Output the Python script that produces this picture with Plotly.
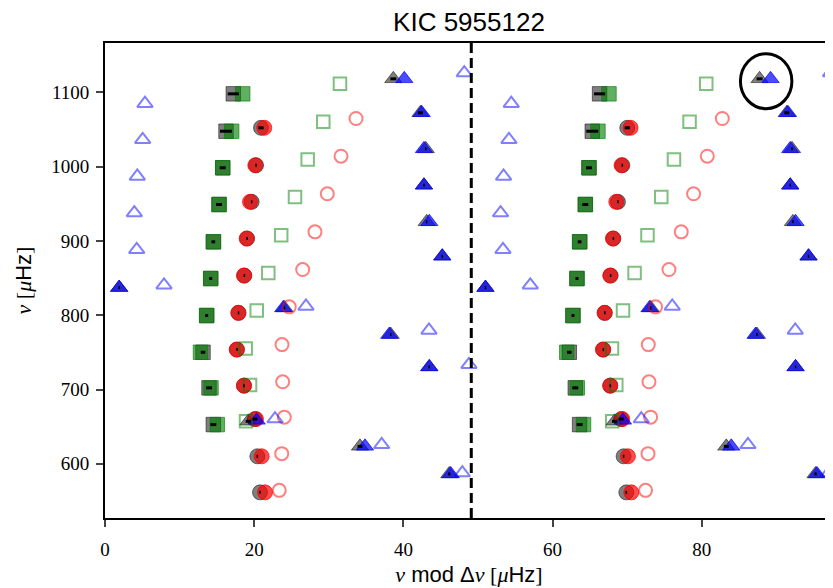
import plotly.graph_objects as go

# ---------------- data ----------------
DNU = 49.1  # large separation, dashed line and replica offset [muHz]

# observed l=2 (gray squares)
obs_l2_x = [17.20, 16.22, 15.78, 15.28, 14.52, 14.17, 13.63, 13.14, 13.94, 14.52]
obs_l2_nu = [1097.8, 1047.5, 998.3, 948.9, 898.7, 849.3, 799.5, 750.1, 702.2, 652.8]
obs_l2_err = [0.75, 0.8, 0.4, 0.4, 0.25, 0.2, 0.2, 0.3, 0.4, 0.4]

# observed l=0 (gray circles)
obs_l0_x = [20.91, 20.25, 19.66, 19.05, 18.68, 17.90, 17.70, 18.63, 20.10, 20.42, 20.78]
obs_l0_nu = [1052.1, 1001.7, 952.5, 903.1, 853.3, 803.1, 753.7, 705.2, 660.2, 610.1, 561.6]
obs_l0_err = [0.35, 0.1, 0.1, 0.1, 0.1, 0.1, 0.1, 0.1, 0.33, 0.1, 0.1]

# observed l=1 (gray triangles)
obs_l1_x = [38.65, 42.29, 43.00, 42.76, 43.12, 45.21, 1.90, 24.06, 38.30, 43.47, 19.21, 34.18, 46.15]
obs_l1_nu = [1118.0, 1072.3, 1023.8, 974.8, 925.6, 879.3, 837.1, 809.8, 773.9, 730.4, 657.2, 623.5, 586.4]
obs_l1_err = [0.4, 0.33, 0.1, 0.1, 0.1, 0.1, 0.1, 0.1, 0.1, 0.1, 0.35, 0.33, 0.15]

# best model, matched modes (filled)
mod_l2_x = [18.46, 16.98, 15.78, 15.30, 14.55, 14.17, 13.63, 12.80, 14.21, 15.05]
mod_l2_nu = [1097.8, 1047.5, 998.3, 948.9, 898.7, 849.3, 799.5, 750.1, 702.2, 652.8]
mod_l0_x = [21.35, 20.15, 19.44, 18.99, 18.63, 17.87, 17.65, 18.63, 20.24, 21.00, 21.45]
mod_l0_nu = [1052.1, 1001.7, 952.5, 903.1, 853.3, 803.1, 753.7, 705.2, 660.2, 610.1, 561.6]
mod_l1_x = [40.12, 42.45, 42.76, 42.76, 43.47, 45.21, 1.90, 23.90, 38.11, 43.47, 20.33, 34.85, 46.34]
mod_l1_nu = [1118.0, 1072.3, 1023.8, 974.8, 925.6, 879.3, 837.1, 809.8, 773.9, 730.4, 658.5, 623.5, 586.4]

# other model modes (open)
open_l0_x = [33.65, 31.64, 29.80, 28.15, 26.50, 24.70, 23.73, 23.82, 24.04, 23.69, 23.36]
open_l0_nu = [1064.6, 1013.9, 963.3, 912.1, 861.4, 811.2, 760.4, 710.4, 662.8, 613.7, 564.3]
open_l2_x = [31.50, 29.26, 27.17, 25.47, 23.62, 21.89, 20.34, 18.86, 19.44, 18.90]
open_l2_nu = [1111.3, 1060.2, 1009.4, 959.0, 907.5, 856.9, 806.2, 755.1, 705.9, 657.2]
open_l1_x = [48.16, 5.36, 5.05, 4.33, 3.93, 4.25, 7.91, 26.94, 43.43, 48.79, 22.79, 37.09, 47.90]
open_l1_nu = [1126.1, 1084.8, 1036.3, 986.9, 937.7, 888.3, 840.5, 812.0, 779.7, 733.5, 660.4, 625.8, 587.8]

# highlighted mode (black circle)
HL_X, HL_NU, HL_RX, HL_RY = 88.63, 1114.8, 3.45, 37.0

x_ticks = [0, 20, 40, 60, 80]
y_ticks = [600, 700, 800, 900, 1000, 1100]
TITLE = "KIC 5955122"

# ---------------- helpers ----------------
def rep(x, nu):
    """échelle replicated one Δν to the right"""
    return list(x) + [v + DNU for v in x], list(nu) + list(nu)

GRAY = "rgba(0,0,0,0.5)"
RED_F, BLUE_F, GREEN_F = "rgba(255,0,0,0.7)", "rgba(0,0,255,0.7)", "rgba(0,128,0,0.62)"
RED_O, BLUE_O, GREEN_O = "rgba(255,0,0,0.5)", "rgba(0,0,255,0.5)", "rgba(0,128,0,0.5)"

fig = go.Figure()

def add(x, nu, symbol, color, size, lw, open_=False):
    xx, yy = rep(x, nu)
    fig.add_trace(go.Scatter(
        x=xx, y=yy, mode="markers", showlegend=False, hoverinfo="skip",
        marker=dict(symbol=symbol + ("-open" if open_ else ""), size=size,
                    color=color, line=dict(color=color, width=lw))))

SQ, CI, TR = 14.5, 15, 15
# observed (gray)
add(obs_l2_x, obs_l2_nu, "square", GRAY, SQ, 1)
add(obs_l0_x, obs_l0_nu, "circle", GRAY, CI, 1)
add(obs_l1_x, obs_l1_nu, "triangle-up", GRAY, TR, 1)
# matched model (filled)
add(mod_l2_x, mod_l2_nu, "square", GREEN_F, SQ, 1)
add(mod_l0_x, mod_l0_nu, "circle", RED_F, CI, 1)
add(mod_l1_x, mod_l1_nu, "triangle-up", BLUE_F, TR, 1)
# other model modes (open)
add(open_l2_x, open_l2_nu, "square", GREEN_O, 12.5, 2, True)
add(open_l0_x, open_l0_nu, "circle", RED_O, 13, 2, True)
add(open_l1_x, open_l1_nu, "triangle-up", BLUE_O, 13.5, 2, True)

# error bars on top
for x, nu, err in [(obs_l2_x, obs_l2_nu, obs_l2_err),
                   (obs_l0_x, obs_l0_nu, obs_l0_err),
                   (obs_l1_x, obs_l1_nu, obs_l1_err)]:
    xx, yy = rep(x, nu)
    fig.add_trace(go.Scatter(
        x=xx, y=yy, mode="markers", showlegend=False, hoverinfo="skip",
        marker=dict(size=1, color="rgba(0,0,0,0)"),
        error_x=dict(type="data", array=list(err) + list(err), width=0,
                     thickness=3, color="black")))

# dashed Δν line
fig.add_shape(type="line", xref="x", yref="paper", x0=DNU, x1=DNU, y0=0, y1=1,
              line=dict(color="black", width=3, dash="10px,5px"))
# highlight circle
fig.add_shape(type="circle", xref="x", yref="y",
              x0=HL_X - HL_RX, x1=HL_X + HL_RX, y0=HL_NU - HL_RY, y1=HL_NU + HL_RY,
              line=dict(color="black", width=3))

SERIF = "Liberation Serif"
SANS = "Liberation Sans"
def s(t):
    return f'<span style="font-family:{SERIF}">{t}</span>'

xtitle = s("<i>ν</i>") + " mod Δ" + s("<i>ν</i> [<i>μ</i>") + "Hz" + s("]")
ytitle = s("<i>ν</i> [<i>μ</i>") + "Hz" + s("]")

# page body has an 8px margin: figure placed at (8, 8)
FW, FH = 825, 580
fig.update_layout(
    width=FW, height=FH,
    margin=dict(l=97, r=0, t=35, b=70, autoexpand=False),
    paper_bgcolor="white", plot_bgcolor="white",
    title=dict(text=TITLE, x=461 / FW, xanchor="center", y=1 - 14 / FH,
               yanchor="middle", font=dict(family=SANS, size=26, color="black")),
    font=dict(family=SANS, color="black"),
    xaxis=dict(range=[0, 97.59], tickvals=x_ticks, ticks="outside", ticklen=7,
               tickwidth=1.5, showline=True, linewidth=2, linecolor="black",
               mirror=True, showgrid=False, zeroline=False, automargin=False,
               ticklabelstandoff=6,
               tickfont=dict(family=SERIF, size=19, color="black"),
               title=dict(text=xtitle, font=dict(family=SANS, size=22), standoff=8)),
    yaxis=dict(range=[527.1, 1166.2], tickvals=y_ticks, ticks="outside", ticklen=7,
               tickwidth=1.5, showline=True, linewidth=2, linecolor="black",
               showgrid=False, zeroline=False, automargin=False,
               ticklabelstandoff=3,
               tickfont=dict(family=SERIF, size=19, color="black"),
               title=dict(text=ytitle, font=dict(family=SANS, size=22), standoff=14)),
)

fig.write_html("out.html")
